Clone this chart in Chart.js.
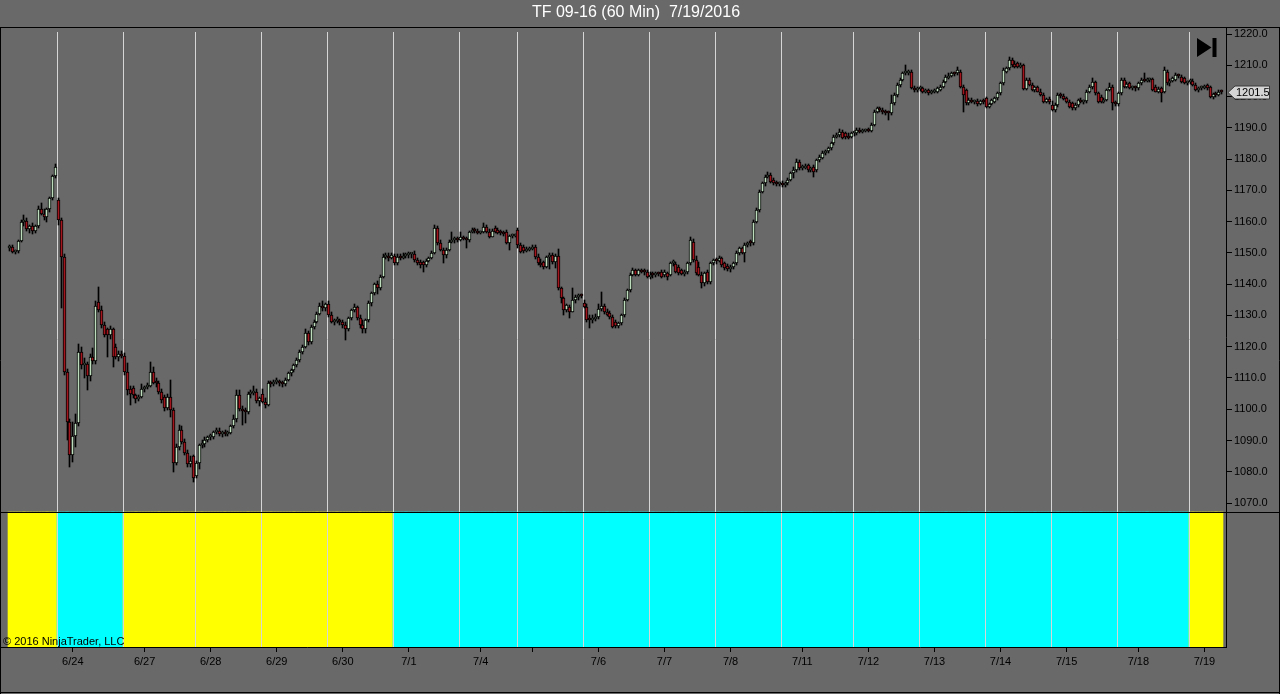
<!DOCTYPE html>
<html>
<head>
<meta charset="utf-8">
<title>TF 09-16 (60 Min) 7/19/2016</title>
<script src="https://cdn.jsdelivr.net/npm/chart.js@4.4.1/dist/chart.umd.min.js"></script>
<style>
html,body{margin:0;padding:0;background:#696969;overflow:hidden;}
canvas{display:block;}
</style>
</head>
<body>
<canvas id="chart" width="1280" height="694"></canvas>
<script>
// ---------------- DATA ----------------
const chartTitle = 'TF 09-16 (60 Min)  7/19/2016';
const copyrightText = '\u00A9 2016 NinjaTrader, LLC';

// trading sessions (60-minute bars per session) and the indicator state of each session (0 = yellow, 1 = cyan)
const sessionDays   = ['6/23','6/24','6/27','6/28','6/29','6/30','7/1','7/4','7/5','7/6','7/7','7/8','7/11','7/12','7/13','7/14','7/15','7/18','7/19'];
const sessionBars   = [17,23,25,23,23,23,23,20,23,23,23,23,25,23,23,23,23,25,12];
const sessionSignal = [0,1,0,0,0,0,1,1,1,1,1,1,1,1,1,1,1,1,0];

// date axis: bar index carrying each date tick and its label
const dateTickBars   = [22,47,70,93,116,139,164,182,205,228,251,276,299,322,345,368,393,416];
const dateTickLabels = ['6/24','6/27','6/28','6/29','6/30','7/1','7/4','','7/6','7/7','7/8','7/11','7/12','7/13','7/14','7/15','7/18','7/19'];

// price axis tick labels
const priceTicks = [1070,1080,1090,1100,1110,1120,1130,1140,1150,1160,1170,1180,1190,1200,1210,1220];

// OHLC of every 60-minute bar
const openP = [
1151.5,1151.8,1150.2,1150.5,1153.8,1159.8,1160.2,1157.5,1158.5,1157,1158.5,1164,1162.5,1161.5,1164,1167.5,1174.5,
1167,1160.5,1148.7,1112,1096,1085.3,1091.5,1095.5,1118.3,1114,1114.5,1110.5,1116.8,1115.5,1134.4,1131.7,1127,1125.5,1123.7,1125.5,1120,1116.8,1117.5,
1117,1112,1106.5,1106.9,1104.5,1103.4,1104,1106.5,1107,1107.5,1112,1109,1108.3,1105.6,1104,1100.3,1104,1099.8,1082.8,1088,1093.4,1089.5,1086,1082.5,1085,
1078.5,1082.8,1088.6,1089,1090.2,1091,1091.2,1092.7,1093,1092,1092.5,1092,1092.5,1094.5,1097,1104.5,1100.1,1099.5,1099,1104.8,1105.3,1105.5,1102.5,
1105,1102.4,1101.5,1108.3,1108,1108.8,1109,1108.3,1108,1109.5,1111.5,1112.5,1114,1115.7,1118.2,1120,1124.3,1121.6,1126.4,1128,1130.5,1133,1132.5,
1133.5,1130.1,1128,1128.3,1128.6,1128,1127,1125.5,1129.2,1131.7,1132.8,1129.2,1127,1125.5,1128.5,1133.9,1137.1,1140,1138.8,1142.4,1148.8,1149,1148.5,
1149,1146.7,1148.8,1148.5,1149,1149.2,1149.5,1149.6,1147.7,1147.2,1147,1146,1147.5,1148.3,1149.9,1157.9,1153.1,1150.9,1149.3,1150.9,1153.6,1154.1,1154.5,
1154,1155,1154.5,1154,1156.8,1157.3,1157,1156.5,1156.8,1158.3,1156.8,1155.2,1157.9,1157.3,1156.5,1156.3,1156.8,1153.2,1155.3,1155.5,
1157.3,1152.5,1151.8,1150.6,1151,1151.2,1152,1148.8,1146.7,1147.2,1145.6,1148.8,1149.3,1147,1149,1138.7,1135.5,1131.7,1132.8,1131.2,1134.9,1136,1136.5,
1134.1,1132.8,1129,1128.5,1129,1129.6,1132,1133,1131,1130.7,1129.6,1128,1126.5,1127.5,1130.1,1134.9,1138.1,1143,1144.4,1143,1144.5,1144,1144,
1142.4,1143,1142.8,1143.5,1144,1142.8,1143.5,1142.8,1146.7,1146.5,1145.6,1144.5,1143.3,1143.8,1146.7,1153.6,1147.7,1145.5,1143,1140.4,1144,1140.8,1146.7,
1147.7,1147.5,1148.3,1146.7,1145.8,1144.8,1145.5,1146.7,1149.9,1151.5,1149.9,1152.5,1153.1,1153,1160,1163.7,1169.6,1172.3,1174.4,1175,1173.3,1172.3,1172,
1172.2,1171.8,1172.3,1173.3,1175.5,1176.5,1179.2,1177,1177.3,1178.1,1176.5,1177.5,1176.5,1179.7,1180.4,1181.9,1182.5,1183.5,1185,1187.2,1187.6,1188.8,1188.2,1187.5,1187.2,
1188.2,1188.3,1189.3,1188.8,1189,1189.2,1189,1191,1195.2,1196.2,1195.7,1195,1194.8,1194.7,1197.8,1200.5,1203.7,1205.3,1207.4,1207.6,1208,1202.6,1202,
1202.3,1202.6,1201.6,1202,1201,1201.5,1201.6,1202.2,1203.2,1204.7,1206,1206.7,1207.4,1207.4,1208,1203.2,1202.1,1197.8,1198.8,1198.3,1198.5,1197.7,1198.5,
1199.4,1196.8,1197.5,1198.4,1199.4,1201,1204.2,1208,1209,1211.7,1210.5,1210.6,1209.6,1210,1202.5,1205.3,1203.7,1202.1,1203,1201.6,1200.5,1198.4,1199.3,
1197.3,1195.7,1197.3,1200.5,1200.2,1199.6,1198.4,1197.8,1196.2,1197.2,1198.9,1198.4,1198.5,1201.6,1203.2,1204.7,1201,1200,1198.4,1198.8,1202.1,1203.2,1197.8,
1197.5,1201,1205.3,1203.2,1204.2,1202.6,1202.9,1202.6,1204.2,1205.3,1205,1205.3,1205.5,1203.2,1201.6,1202.6,1201.6,1208,1204.2,1205,1205.3,1206.9,1206.4,1205.8,1204.2,
1204.5,1205,1203.8,1202.1,1202.6,1202.8,1203.7,1203.2,1200,1200.7,1200.5,1201.6
];
const highP = [
1152.5,1152.5,1151,1154,1160.5,1162,1161,1159,1159.5,1159,1165,1166,1164,1164.5,1168,1175,1178.5,
1167.5,1161,1149.5,1113,1097,1096,1098.5,1121,1120,1116.5,1115,1117.5,1119.5,1134.5,1139.2,1133,1128,1126,1126.5,1126,1121,1118.5,1118.5,
1118,1114.8,1107.5,1107.5,1105,1104.5,1108,1107.5,1108.5,1115.2,1113.5,1110,1109,1106.5,1104.5,1105,1109.3,1100.5,1089,1095,1094.5,1090.5,1087,1085,1085.5,
1083.5,1089,1090,1091,1091.5,1092,1093,1094,1094,1093,1093.5,1093,1095,1098,1106,1106,1101,1100.5,1105.5,1106,1107.5,1106.5,1104,
1106.5,1103.5,1109,1109,1109.5,1110,1109.5,1109,1110,1112,1113,1114.5,1116.5,1119,1120.5,1125.5,1125,1127,1128.5,1131,1134,1134.5,1134,
1134.5,1131,1129,1129.5,1129,1128.5,1128,1129.5,1132,1133.5,1133,1130,1128.5,1129,1134.5,1137.5,1140.5,1141,1143,1149.5,1150,1150,1150,
1149.5,1149.5,1149.5,1150,1150,1150.3,1150,1150.5,1148.5,1147.8,1147.5,1148,1148.8,1150.5,1158.9,1158.5,1154,1151.5,1151.5,1154,1156.8,1155,1155,
1156.8,1155.5,1155,1157,1157.8,1157.8,1157.5,1157,1159.7,1158.8,1157.5,1157.5,1158.5,1157.8,1157.2,1157,1157.3,1155.8,1156,1156,
1157.8,1153,1152.5,1151.8,1152,1152.5,1152.5,1149.5,1148,1147.5,1149,1150,1150,1149.7,1151.2,1139,1136,1133.8,1133.3,1138.7,1136.5,1137,1137,
1135,1133.5,1130,1130,1130.5,1133.5,1137.6,1133.5,1132,1131.3,1130,1128.5,1128,1130.5,1135.5,1138.5,1143.5,1145.1,1145,1145,1145,1144.8,1144.5,
1144,1143.8,1144,1144,1144.5,1144.5,1144,1147,1147.7,1147,1146,1145,1144.5,1147,1155.2,1154.5,1149,1147,1144,1144,1144.5,1147,1148,
1148.5,1149,1148.8,1147.2,1146.5,1146,1147.2,1150.5,1152,1152,1153,1153.5,1154,1160.5,1164.2,1170,1172.8,1175,1176,1175.5,1174,1173,1172.8,
1173,1172.8,1173.8,1176,1177.5,1180,1179.8,1178,1178.3,1178.5,1177.5,1178,1180,1181.3,1182.5,1183,1184,1185.5,1187.8,1188.3,1189.5,1189.2,1188.8,1188.3,1188.8,
1189,1190,1189.8,1189.5,1189.7,1190,1191.5,1195.8,1196.8,1196.8,1196.3,1195.8,1195.5,1200.5,1201,1204.3,1206,1208,1210.1,1208.5,1208.5,1203.5,1203,
1203.3,1203,1202.5,1202.5,1202,1202.3,1203,1203.6,1205.3,1206.8,1207.5,1208,1208,1209.5,1208.5,1203.8,1202.5,1199.5,1199.5,1199,1199.2,1199,1199.2,
1199.8,1198,1199.3,1199.8,1201.5,1204.6,1209,1209.5,1212.7,1212.2,1211.5,1211,1210.6,1210.5,1205.8,1205.8,1204.2,1203.5,1203.5,1202.3,1201,1199.6,1199.8,
1198.5,1197.8,1201,1201,1200.8,1200,1199,1198.3,1197.8,1199.3,1199.5,1199,1202,1203.8,1205.8,1205,1201.5,1200.5,1199.5,1202.5,1204.4,1203.7,1198.5,
1201.5,1205.8,1205.8,1204.6,1204.8,1203.5,1203.3,1204.6,1205.8,1207.4,1205.8,1206,1206,1203.6,1203,1203,1209.5,1208.6,1205.5,1206.2,1207.5,1207.3,1206.8,1206.3,1205,
1205.5,1205.5,1204.3,1203,1203.3,1203.8,1204,1203.5,1201.2,1201.3,1202,1202
];
const lowP = [
1150.5,1150,1149.8,1150,1153.5,1158.5,1157,1156.5,1156,1156.5,1158,1162,1160.5,1160,1163,1167,1174,
1159,1132.4,1111,1090,1081.5,1083,1088,1094.5,1113,1110,1106,1109,1114.5,1114.5,1131,1126,1123,1116.8,1122.5,1113.5,1116,1115.5,1116.5,
1111,1104.5,1101.4,1103.5,1102,1102.5,1103.5,1105.5,1106.5,1107,1108,1107,1105,1102,1099.5,1099.8,1097.5,1080,1082,1087,1089,1085.5,1081.6,1081.5,1076.8,
1078,1081,1087.5,1088,1089.5,1090,1090.5,1092,1091.5,1091,1091.5,1091.5,1092,1094,1096,1099.5,1095,1095.5,1098.5,1103.5,1104.5,1102,1101,
1102,1100.5,1101,1107,1107.5,1108,1107.5,1107,1107.5,1109,1110.5,1112,1113.5,1115,1117.5,1119.5,1120.5,1121,1125.5,1127.5,1130,1131.5,1131.5,
1129.5,1127.5,1127,1127.5,1127,1126,1122,1125,1128.5,1131,1128.5,1126,1124.3,1124.5,1128,1133,1136.5,1136.8,1138,1142,1148,1147.5,1148,
1146,1146,1147.8,1148,1148.3,1148.5,1148.5,1147,1146,1145.1,1144,1145.5,1147,1148,1149.5,1152.5,1150.5,1146.8,1148.5,1150.5,1153,1153,1153.5,
1153.8,1154,1151.5,1153.5,1156.3,1156.5,1156,1156,1156.5,1156.5,1154.8,1155,1156.5,1156,1155.8,1155.5,1152.8,1151,1154.8,1155,
1151.5,1150,1150,1150.3,1150.5,1150.8,1148,1146,1145.5,1145,1145.3,1145,1146.5,1145.1,1138,1133.9,1130.1,1131,1129.1,1131,1134,1135,1135.5,
1132.5,1128,1125.9,1127.5,1128.3,1129,1131.5,1130.5,1129.8,1129,1126,1126,1125.9,1127,1129.5,1134.5,1137.5,1142.5,1142.5,1142.5,1143.5,1143,1142,
1141.5,1142,1142.3,1142.5,1142,1142.4,1141.3,1142.5,1145.8,1143.5,1143,1142.8,1142.5,1143.3,1146,1147,1143,1142.5,1138.7,1139.5,1140,1140,1146,
1146.5,1147,1145.5,1144.5,1144.3,1144,1145,1146.2,1149.3,1149.5,1147.2,1152,1152.3,1152.5,1159.5,1163,1169,1171.5,1173.8,1172.5,1171.8,1171.5,1171.3,
1171,1171.2,1171.8,1173,1174,1176,1176.5,1176.5,1176.8,1176,1176,1174.4,1176,1179.2,1180,1181.3,1182,1183,1184.5,1186.8,1187,1186.3,1186.5,1186.4,1186.8,
1187.5,1187.8,1188.3,1188.2,1188.5,1188.6,1188.6,1190.5,1194.8,1195,1194.3,1194.2,1192.5,1194.2,1197.2,1200,1203.2,1205,1207,1206.8,1202.3,1201.3,1201.5,
1201.8,1201,1201,1200.5,1200.7,1201,1201.2,1201.8,1202.8,1204.2,1205.5,1206.2,1206.7,1207,1202.8,1195.2,1197.3,1197.2,1197.8,1197.5,1197,1197.2,1197.5,
1196.3,1196.3,1197.2,1198,1199,1200.5,1203.8,1207.5,1208.5,1209.5,1209,1209.2,1209.2,1202,1202,1203.3,1201.8,1201.5,1201.3,1200.2,1198,1197.8,1197.5,
1195.3,1195.2,1196.8,1199.5,1198.8,1197.8,1196.3,1195.8,1195.8,1196.8,1197.8,1197.6,1198,1201,1202.5,1200.5,1198,1198,1197.8,1198.5,1201.7,1195.7,1197,
1197,1200.5,1202.8,1202.8,1202.3,1202,1201.8,1202.2,1203.8,1204.6,1204.5,1204.7,1201.8,1201.3,1201.2,1198.4,1201,1203.8,1203.5,1204.5,1205,1206,1204.3,1204,1203.8,
1204,1203.5,1201.8,1201.6,1202,1202.4,1202.2,1199.6,1199.2,1200,1200.2,1200.8
];
const closeP = [
1151.8,1150.2,1150.5,1153.8,1159.8,1160.2,1157.5,1158.5,1157,1158.5,1164,1162.5,1161.5,1164,1167.5,1174.5,1177.5,
1160.5,1148.7,1112,1096,1085.3,1091.5,1095.5,1118.3,1114,1114.5,1110.5,1116.8,1115.5,1133,1131.7,1127,1123.7,1123.7,1125.5,1116.8,1116.8,1117.5,1117,
1112,1106.1,1105,1104.5,1103.4,1104,1106.5,1107,1107.5,1112,1108.3,1108.3,1105.6,1102.9,1100.3,1104,1099.8,1082.8,1088,1093.4,1089.5,1086,1082.5,1083.5,1078,
1082.8,1088.6,1089,1090.2,1091,1091.2,1092.7,1093,1092,1092.5,1092,1092.5,1094.5,1097,1104.5,1100.1,1099.5,1099,1104.8,1105.3,1105.5,1102.5,1103.5,
1102.4,1101.5,1108.3,1108,1108.8,1109,1108.3,1108,1109.5,1111.5,1112.5,1114,1115.7,1118.2,1120,1124.3,1121.6,1126.4,1128,1130.5,1133,1132.5,1133.5,
1130.1,1128,1128.3,1128.6,1128,1127,1125.5,1129.2,1131.7,1132.8,1129.2,1127,1125.5,1128.5,1133.9,1137.1,1140,1138.8,1142.4,1148.8,1149,1148.5,1149.2,
1146.7,1148.8,1148.5,1149,1149.2,1149.5,1149.6,1147.7,1146.7,1146.1,1146,1147.5,1148.3,1149.9,1157.9,1153.1,1150.9,1149.3,1150.9,1153.6,1154.1,1154.5,1154,
1155,1154.5,1154,1156.8,1157.3,1157,1156.5,1156.8,1158.3,1156.8,1155.2,1157,1156.8,1156.5,1156.3,1156,1153.2,1155.3,1155.5,1155.6,
1152.5,1150.4,1150.6,1151,1151.2,1152,1148.8,1146.7,1146.1,1145.6,1148.8,1149.3,1147,1149,1138.7,1135.5,1131.7,1133.3,1131.2,1134.9,1136,1136.5,1136.3,
1132.8,1128.5,1128.5,1129,1129.6,1132,1133,1131,1130.1,1129.6,1126.4,1126.5,1127.5,1130.1,1134.9,1138.1,1143,1144.4,1143,1144.5,1144,1143.8,1142.4,
1143,1142.8,1143.5,1143.2,1142.4,1144,1142.4,1146.7,1147,1144,1143.5,1143.3,1143.8,1146.7,1154.1,1147.7,1143.5,1143,1140.4,1143.5,1140.8,1146.7,1147.7,
1147.5,1148.3,1146.1,1145.1,1144.8,1145.5,1146.7,1149.9,1151.5,1149.9,1152.5,1153.1,1153,1160,1163.7,1169.6,1172.3,1174.4,1175,1172.8,1172.3,1172,1172.2,
1171.8,1172.3,1173.3,1175.5,1176.5,1179.2,1177,1177.3,1177.6,1176.5,1176.9,1176,1179.7,1180.8,1181.9,1182.5,1183.5,1185,1187.2,1187.6,1188.8,1186.7,1187,1186.8,1188.2,
1188.5,1189.3,1188.8,1189,1189.2,1189,1190.9,1195.2,1196.2,1195.7,1195,1194.8,1194.7,1197.8,1200.5,1203.7,1205.3,1207.4,1207.6,1208,1202.6,1202,1202.3,
1202.6,1201.6,1201.9,1201,1201.5,1201.8,1202.6,1203.2,1204.7,1206.3,1206.7,1207.4,1207.1,1208.5,1203.2,1200.5,1197.8,1198.8,1198.3,1198.5,1197.7,1198.5,1198.2,
1196.8,1197.5,1198.9,1199.4,1201,1204.2,1208.5,1209,1211.7,1210,1209.6,1209.6,1210,1202.5,1205.3,1203.7,1202.1,1203,1201.6,1200.5,1198.4,1199.3,1198.4,
1195.7,1197.3,1200.5,1200.2,1199.2,1198.4,1196.8,1196.2,1197.2,1198.9,1198.4,1198.5,1201.6,1203.2,1204.7,1201,1198.4,1198.4,1198.8,1202.1,1203.2,1197.8,1197.5,
1201,1205.3,1203.2,1204,1202.6,1202.9,1202.6,1204.2,1205.3,1205,1205.3,1205.5,1202.1,1201.6,1202.3,1201,1208.5,1204.2,1205,1205.8,1206.9,1206.6,1204.7,1204.2,1204.5,
1205,1203.8,1202.1,1202.6,1202.8,1203.2,1202.6,1200,1200.7,1200.5,1201.6,1201.5
];

// ---------------- STYLE ----------------
const BG = '#696969';
const UP = '#bcdcbc';
const DOWN = '#a3161e';
const SIGNAL_COLORS = ['#ffff00', '#00ffff'];
const FONT = '"Liberation Sans", Arial, Helvetica, sans-serif';

// ---------------- BUILD ----------------
const idx = closeP.map((_, i) => i);
const barSignal = [];
const sessionStarts = [];
let acc = 0;
sessionBars.forEach((n, s) => { sessionStarts.push(acc); for (let k = 0; k < n; k++) barSignal.push(sessionSignal[s]); acc += n; });

Chart.defaults.font.family = FONT;
Chart.defaults.font.size = 11;
Chart.defaults.color = '#000';

const chromePlugin = {
  id: 'chrome',
  beforeDraw(chart) {
    const { ctx, width, height } = chart;
    ctx.save();
    ctx.fillStyle = BG;
    ctx.fillRect(0, 0, width, height);
    ctx.restore();
  },
  // snap the bar elements computed by the scales onto whole pixels (crisp candles, seamless indicator)
  beforeDatasetsDraw(chart) {
    [0, 1].forEach(di => {
      chart.getDatasetMeta(di).data.forEach(el => {
        el.x = Math.floor(el.x) + 0.5;
        let y = Math.round(el.y), b = Math.round(el.base);
        if (y === b) { y -= 1; }
        el.y = y; el.base = b;
      });
    });
    chart.getDatasetMeta(2).data.forEach(el => {
      const l = Math.round(el.x - el.width / 2), r = Math.round(el.x + el.width / 2);
      el.x = (l + r) / 2; el.width = r - l;
      el.y = Math.round(el.y); el.base = Math.round(el.base);
    });
  },
  afterDatasetDraw(chart, args) {
    if (args.index !== 2) return;
    const { ctx, chartArea } = chart;
    const xs = chart.scales.x;
    ctx.save();
    ctx.strokeStyle = '#d6d6d6';
    ctx.lineWidth = 1;
    sessionStarts.slice(1).forEach(s => {
      const px = Math.round(xs.getPixelForValue(s - 0.5)) + 0.5;
      ctx.beginPath();
      ctx.moveTo(px, chartArea.top + 5);
      ctx.lineTo(px, chartArea.bottom);
      ctx.stroke();
    });
    ctx.restore();
  },
  afterDraw(chart) {
    const { ctx, chartArea, width, height } = chart;
    const yP = chart.scales.y;
    const yI = chart.scales.yInd;
    ctx.save();
    ctx.strokeStyle = '#000';
    ctx.lineWidth = 1;
    // frame
    ctx.beginPath();
    ctx.moveTo(0, chartArea.top + 0.5); ctx.lineTo(width, chartArea.top + 0.5);
    ctx.moveTo(0.5, chartArea.top); ctx.lineTo(0.5, height);
    ctx.moveTo(width - 0.5, chartArea.top); ctx.lineTo(width - 0.5, height);
    ctx.moveTo(0, height - 1.5); ctx.lineTo(width, height - 1.5);
    const yDiv = Math.round(yI.getPixelForValue(1)) + 0.5;
    ctx.moveTo(0, yDiv); ctx.lineTo(width, yDiv);
    ctx.stroke();

    // title
    ctx.fillStyle = '#fff';
    ctx.font = '16px ' + FONT;
    ctx.textAlign = 'center';
    ctx.textBaseline = 'middle';
    ctx.fillText(chartTitle, 636, 13);

    // copyright
    ctx.fillStyle = '#000';
    ctx.font = '11px ' + FONT;
    ctx.textAlign = 'left';
    ctx.textBaseline = 'alphabetic';
    ctx.fillText(copyrightText, 3, chartArea.bottom - 2);

    // "go to last bar" icon
    ctx.fillStyle = '#000';
    ctx.beginPath();
    ctx.moveTo(1197, 38); ctx.lineTo(1211.5, 47.5); ctx.lineTo(1197, 57); ctx.closePath();
    ctx.fill();
    ctx.fillRect(1212.5, 38, 4, 19);

    // last price marker
    const last = closeP[closeP.length - 1];
    const py = Math.round(yP.getPixelForValue(last)) + 0.5;
    const x0 = chartArea.right + 2;
    ctx.beginPath();
    ctx.moveTo(x0, py);
    ctx.lineTo(x0 + 7, py - 6.5);
    ctx.lineTo(x0 + 41.5, py - 6.5);
    ctx.lineTo(x0 + 41.5, py + 6.5);
    ctx.lineTo(x0 + 7, py + 6.5);
    ctx.closePath();
    ctx.fillStyle = '#d4d4d4';
    ctx.fill();
    ctx.strokeStyle = '#3a3a3a';
    ctx.stroke();
    ctx.fillStyle = '#000';
    ctx.font = '11px ' + FONT;
    ctx.textBaseline = 'middle';
    ctx.fillText(last.toFixed(1), x0 + 8, py + 0.5);
    ctx.restore();
  }
};

new Chart(document.getElementById('chart'), {
  type: 'bar',
  data: {
    datasets: [
      {
        label: 'body',
        data: idx.map(i => ({ x: i, y: [openP[i], closeP[i]] })),
        backgroundColor: idx.map(i => closeP[i] >= openP[i] ? UP : DOWN),
        borderColor: '#000',
        borderWidth: 1,
        borderSkipped: false,
        barThickness: 3,
        minBarLength: 2,
        grouped: false,
        order: 1,
        yAxisID: 'y'
      },
      {
        label: 'wick',
        data: idx.map(i => ({ x: i, y: [lowP[i], highP[i]] })),
        backgroundColor: '#000',
        borderWidth: 0,
        barThickness: 1,
        grouped: false,
        order: 2,
        yAxisID: 'y'
      },
      {
        label: 'signal',
        data: idx.map(i => ({ x: i, y: 1 })),
        backgroundColor: idx.map(i => SIGNAL_COLORS[barSignal[i]]),
        borderWidth: 0,
        barPercentage: 1,
        categoryPercentage: 1,
        grouped: false,
        order: 3,
        yAxisID: 'yInd'
      }
    ]
  },
  options: {
    responsive: false,
    animation: false,
    devicePixelRatio: 1,
    events: [],
    layout: { padding: { top: 27, left: 1, right: 0, bottom: 0 } },
    plugins: { legend: { display: false }, tooltip: { enabled: false }, title: { display: false } },
    scales: {
      x: {
        type: 'linear',
        position: 'bottom',
        min: -3,
        max: 423.5,
        offset: false,
        afterBuildTicks: s => { s.ticks = dateTickBars.map(v => ({ value: v })); },
        afterFit: s => { s.height = 47; },
        ticks: {
          autoSkip: false, maxRotation: 0, minRotation: 0, padding: 3, color: '#000',
          font: { size: 11, family: FONT },
          callback: (v, i) => dateTickLabels[i]
        },
        grid: { display: true, offset: false, drawOnChartArea: false, drawTicks: true, tickLength: 5, color: '#000', lineWidth: 1 },
        border: { display: true, color: '#000', width: 1 }
      },
      y: {
        type: 'linear',
        position: 'right',
        min: 1023.95,
        max: 1222.24,
        afterBuildTicks: s => { s.ticks = priceTicks.map(v => ({ value: v })); },
        afterFit: s => { s.width = 54; },
        ticks: {
          padding: 2, color: '#000', font: { size: 11, family: FONT },
          callback: v => Number(v).toFixed(1)
        },
        grid: { display: true, drawOnChartArea: false, drawTicks: true, tickLength: 6, color: '#000', lineWidth: 1 },
        border: { display: true, color: '#000', width: 1 }
      },
      yInd: {
        type: 'linear',
        display: false,
        min: 0,
        max: 620 / 135
      }
    }
  },
  plugins: [chromePlugin]
});
</script>
</body>
</html>
